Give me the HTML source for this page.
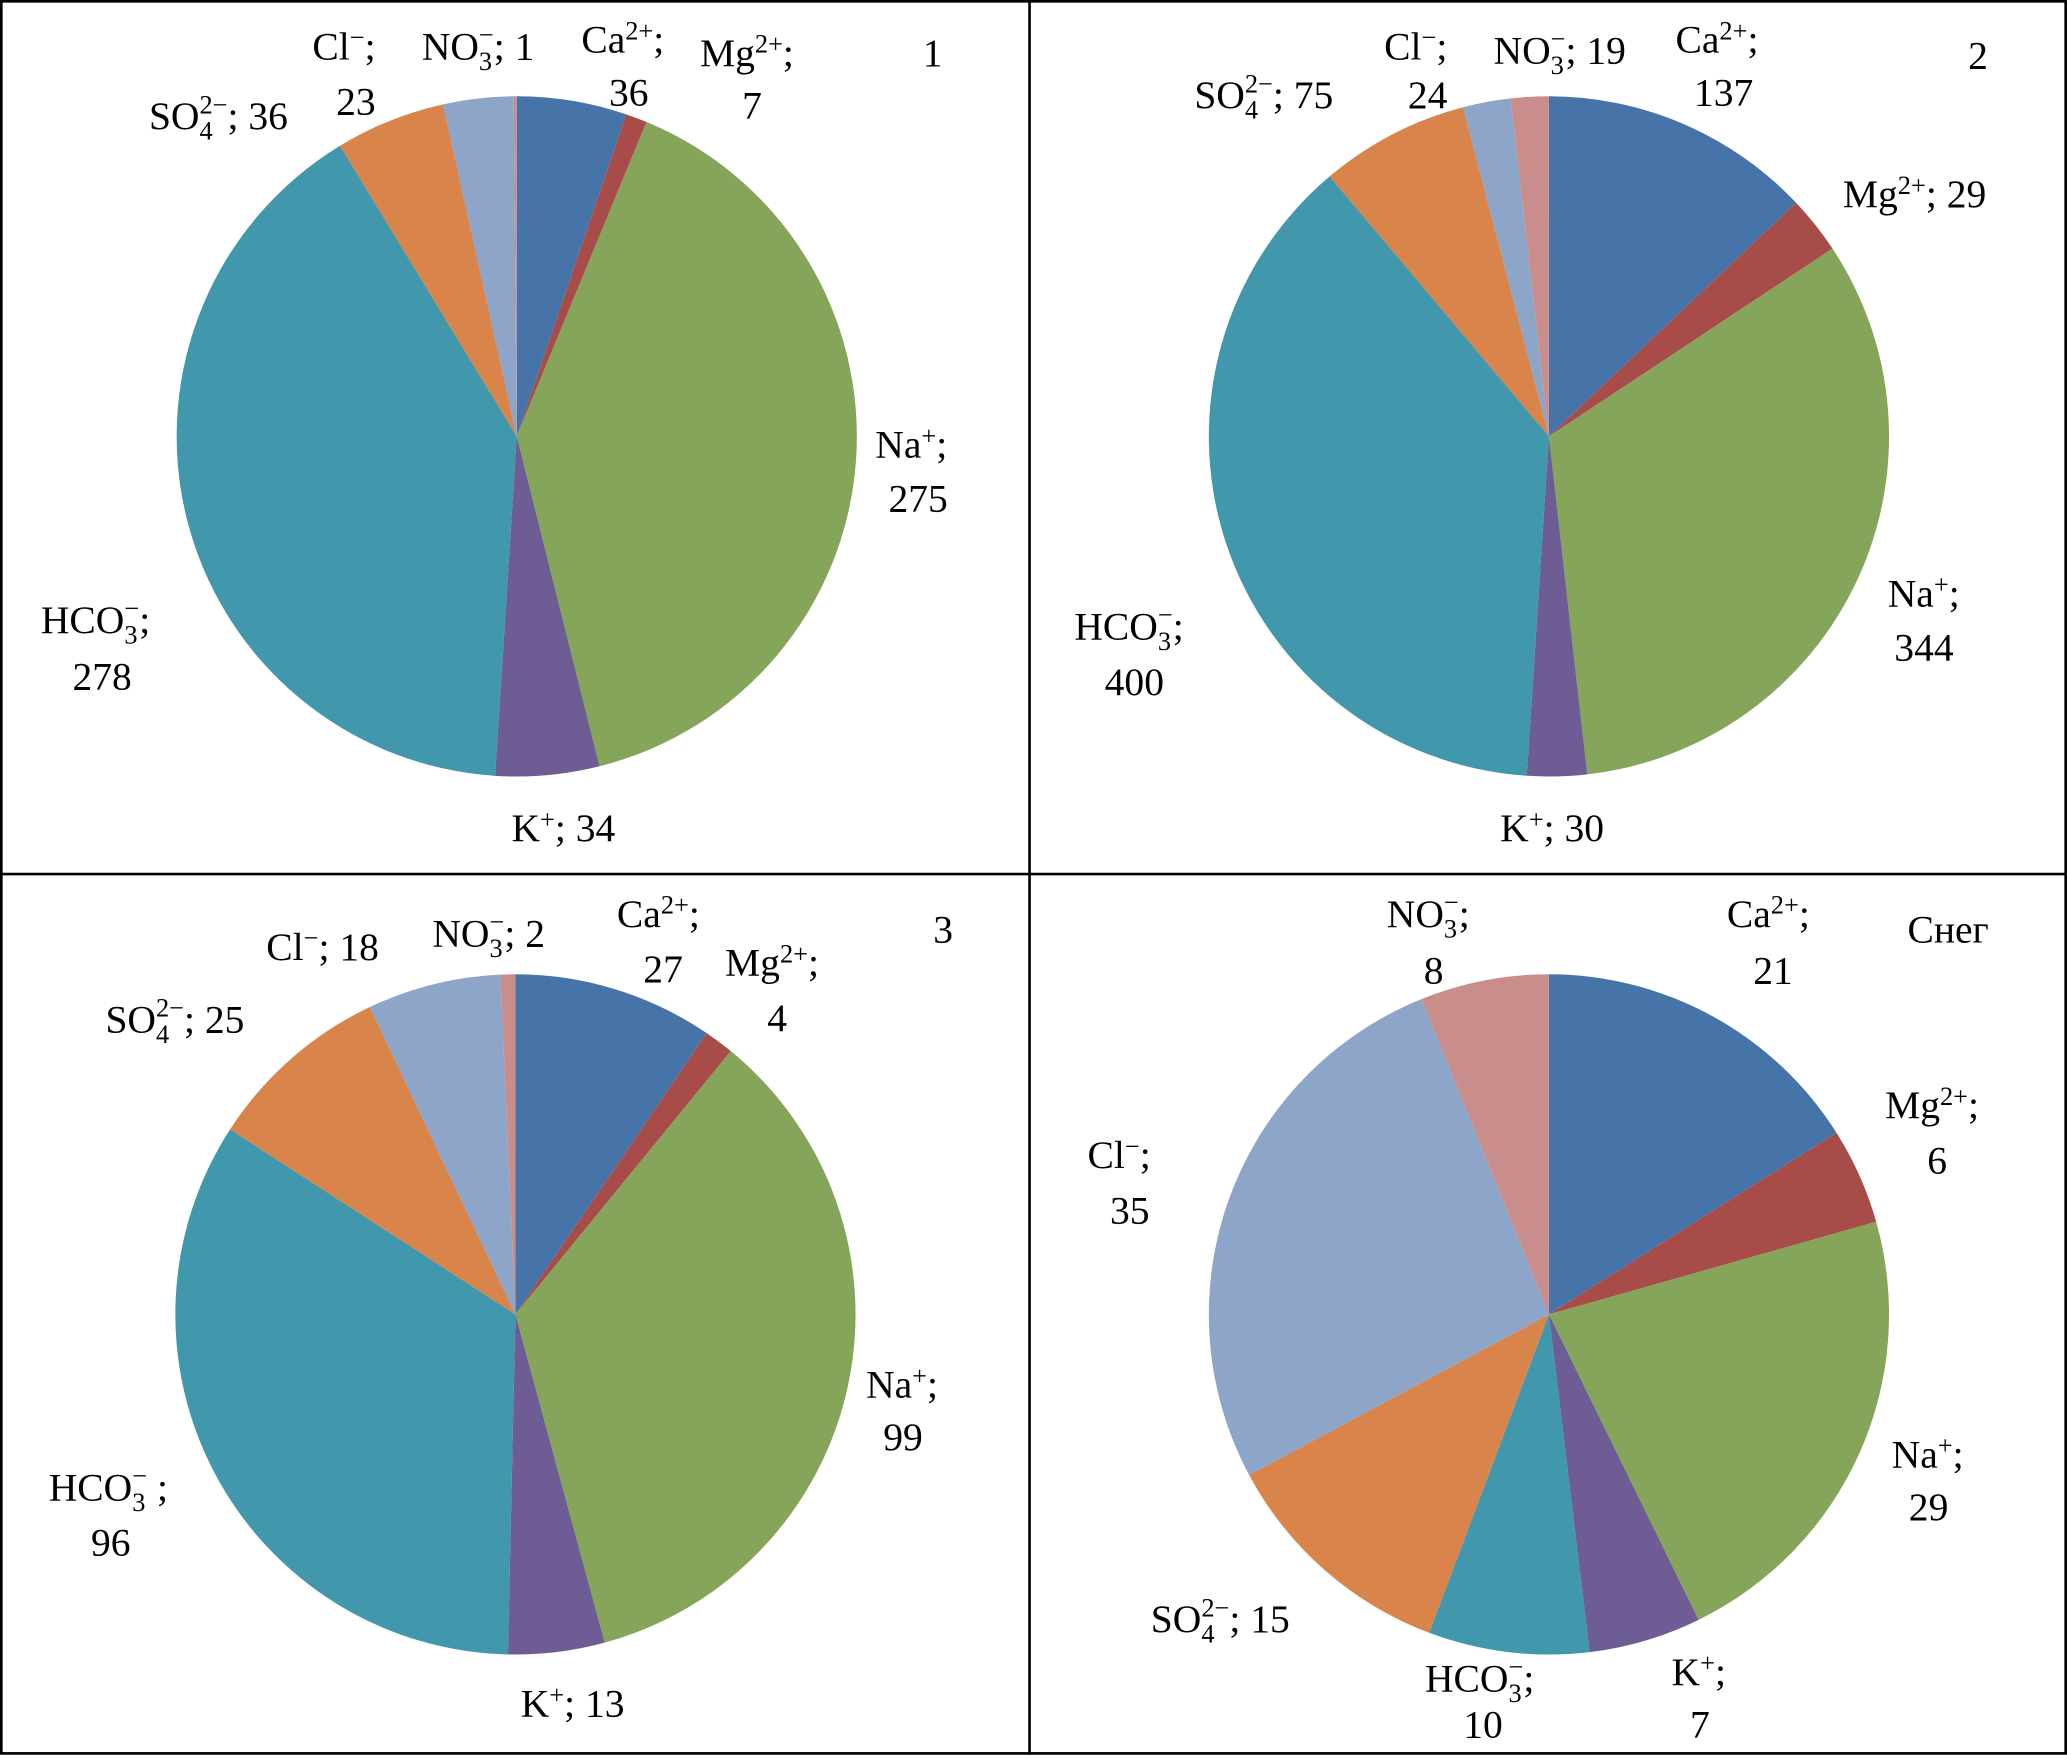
<!DOCTYPE html>
<html><head><meta charset="utf-8">
<style>
html,body{margin:0;padding:0;background:#fff;}
svg{display:block;}
text{font-family:"Liberation Serif",serif;font-size:30px;fill:#000;}
.s{font-size:20px;}
</style></head>
<body>
<svg id="chart" width="2067" height="1760" viewBox="0 0 1568 1335" preserveAspectRatio="none" xmlns="http://www.w3.org/2000/svg">
<rect x="1" y="1" width="1566" height="1329" fill="#fff" stroke="#000" stroke-width="2"/>
<line x1="781" y1="0" x2="781" y2="1331" stroke="#000" stroke-width="2"/>
<line x1="0" y1="663" x2="1568" y2="663" stroke="#000" stroke-width="2"/>
<g id="pies"></g>

<g>
<text x="237" y="45">Cl<tspan class="s" dy="-10">−</tspan><tspan dy="10">;</tspan></text>
<text x="255" y="87">23</text>
<text x="320" y="45">NO<tspan class="s" dy="8">3</tspan><tspan class="s" dx="-10" dy="-20">−</tspan><tspan dy="12">; 1</tspan></text>
<text x="441" y="40">Ca<tspan class="s" dy="-10">2+</tspan><tspan dy="10">;</tspan></text>
<text x="462" y="80">36</text>
<text x="531" y="50">Mg<tspan class="s" dy="-10">2+</tspan><tspan dy="10">;</tspan></text>
<text x="563" y="90">7</text>
<text x="700" y="50">1</text>
<text x="113" y="98">SO<tspan class="s" dy="8">4</tspan><tspan class="s" dx="-10" dy="-20">2−</tspan><tspan dy="12">;  36</tspan></text>
<text x="664" y="347">Na<tspan class="s" dy="-10">+</tspan><tspan dy="10">;</tspan></text>
<text x="674" y="388">275</text>
<text x="31" y="480">HCO<tspan class="s" dy="8">3</tspan><tspan class="s" dx="-10" dy="-20">−</tspan><tspan dy="12">;</tspan></text>
<text x="55" y="523">278</text>
<text x="388" y="638">K<tspan class="s" dy="-10">+</tspan><tspan dy="10">; 34</tspan></text>
</g>

<g>
<text x="1050" y="45">Cl<tspan class="s" dy="-10">−</tspan><tspan dy="10">;</tspan></text>
<text x="1068" y="82">24</text>
<text x="1133" y="48">NO<tspan class="s" dy="8">3</tspan><tspan class="s" dx="-10" dy="-20">−</tspan><tspan dy="12">; 19</tspan></text>
<text x="1271" y="40">Ca<tspan class="s" dy="-10">2+</tspan><tspan dy="10">;</tspan></text>
<text x="1285" y="80">137</text>
<text x="1493" y="52">2</text>
<text x="906" y="82">SO<tspan class="s" dy="8">4</tspan><tspan class="s" dx="-10" dy="-20">2−</tspan><tspan dy="12">;  75</tspan></text>
<text x="1398" y="157">Mg<tspan class="s" dy="-10">2+</tspan><tspan dy="10">; 29</tspan></text>
<text x="1432" y="460">Na<tspan class="s" dy="-10">+</tspan><tspan dy="10">;</tspan></text>
<text x="1437" y="501">344</text>
<text x="815" y="485">HCO<tspan class="s" dy="8">3</tspan><tspan class="s" dx="-10" dy="-20">−</tspan><tspan dy="12">;</tspan></text>
<text x="838" y="527">400</text>
<text x="1138" y="638">K<tspan class="s" dy="-10">+</tspan><tspan dy="10">; 30</tspan></text>
</g>

<g>
<text x="202" y="728">Cl<tspan class="s" dy="-10">−</tspan><tspan dy="10">; 18</tspan></text>
<text x="328" y="718">NO<tspan class="s" dy="8">3</tspan><tspan class="s" dx="-10" dy="-20">−</tspan><tspan dy="12">; 2</tspan></text>
<text x="468" y="703">Ca<tspan class="s" dy="-10">2+</tspan><tspan dy="10">;</tspan></text>
<text x="488" y="745">27</text>
<text x="550" y="740">Mg<tspan class="s" dy="-10">2+</tspan><tspan dy="10">;</tspan></text>
<text x="582" y="782">4</text>
<text x="708" y="715">3</text>
<text x="80" y="783">SO<tspan class="s" dy="8">4</tspan><tspan class="s" dx="-10" dy="-20">2−</tspan><tspan dy="12">; 25</tspan></text>
<text x="657" y="1060">Na<tspan class="s" dy="-10">+</tspan><tspan dy="10">;</tspan></text>
<text x="670" y="1100">99</text>
<text x="37" y="1138">HCO<tspan class="s" dy="8">3</tspan><tspan class="s" dx="-10" dy="-20">−</tspan><tspan dy="12"> ;</tspan></text>
<text x="69" y="1180">96</text>
<text x="395" y="1302">K<tspan class="s" dy="-10">+</tspan><tspan dy="10">; 13</tspan></text>
</g>

<g>
<text x="1052" y="703">NO<tspan class="s" dy="8">3</tspan><tspan class="s" dx="-10" dy="-20">−</tspan><tspan dy="12">;</tspan></text>
<text x="1080" y="746">8</text>
<text x="1310" y="703">Ca<tspan class="s" dy="-10">2+</tspan><tspan dy="10">;</tspan></text>
<text x="1330" y="746">21</text>
<text x="1447" y="715">Снег</text>
<text x="1430" y="848">Mg<tspan class="s" dy="-10">2+</tspan><tspan dy="10">;</tspan></text>
<text x="1462" y="890">6</text>
<text x="825" y="886">Cl<tspan class="s" dy="-10">−</tspan><tspan dy="10">;</tspan></text>
<text x="842" y="928">35</text>
<text x="1435" y="1113">Na<tspan class="s" dy="-10">+</tspan><tspan dy="10">;</tspan></text>
<text x="1448" y="1153">29</text>
<text x="873" y="1238">SO<tspan class="s" dy="8">4</tspan><tspan class="s" dx="-10" dy="-20">2−</tspan><tspan dy="12">; 15</tspan></text>
<text x="1081" y="1283">HCO<tspan class="s" dy="8">3</tspan><tspan class="s" dx="-10" dy="-20">−</tspan><tspan dy="12">;</tspan></text>
<text x="1110" y="1318">10</text>
<text x="1268" y="1278">K<tspan class="s" dy="-10">+</tspan><tspan dy="10">;</tspan></text>
<text x="1282" y="1318">7</text>
</g>
</svg>
<script>
const ions = ["Ca","Mg","Na","K","HCO3","SO4","Cl","NO3"];
const pie1 = [36,7,275,34,278,36,23,1];
const pie2 = [137,29,344,30,400,75,24,19];
const pie3 = [27,4,99,13,96,25,18,2];
const pieSnow = [21,6,29,7,10,15,35,8];
const colors = ["#4674A8","#A84C4A","#84A55A","#6E5C94","#4197AC","#D9844A","#8CA5C9","#C98D8C"];
const NS = "http://www.w3.org/2000/svg";
const g = document.getElementById('pies');
function drawPie(vals, cx, cy, r, name){
  const grp = document.createElementNS(NS,'g');
  
  
  const total = vals.reduce((a,b)=>a+b,0);
  let a0 = 0;
  vals.forEach((v,i)=>{
    const a1 = a0 + v/total*2*Math.PI;
    const x0 = cx + r*Math.sin(a0), y0 = cy - r*Math.cos(a0);
    const x1 = cx + r*Math.sin(a1), y1 = cy - r*Math.cos(a1);
    const large = (a1-a0) > Math.PI ? 1 : 0;
    const p = document.createElementNS(NS,'path');
    p.setAttribute('d', `M${cx},${cy} L${x0},${y0} A${r},${r} 0 ${large} 1 ${x1},${y1} Z`);
    p.setAttribute('fill', colors[i]);
    
    
    grp.appendChild(p);
    a0 = a1;
  });
  g.appendChild(grp);
}
drawPie(pie1, 392, 331, 258, 'pie-1');
drawPie(pie2, 1175, 331, 258, 'pie-2');
drawPie(pie3, 391, 997, 258, 'pie-3');
drawPie(pieSnow, 1175, 997, 258, 'pie-snow');
</script>
</body></html>
